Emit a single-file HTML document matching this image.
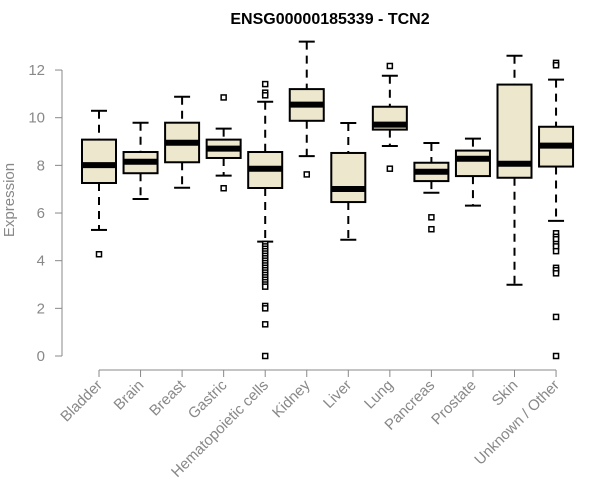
<!DOCTYPE html>
<html><head><meta charset="utf-8"><style>
body{margin:0;background:#fff}
svg{display:block;font-family:"Liberation Sans",Arial,sans-serif}
</style></head><body>
<svg id="chart" width="600" height="500" xmlns="http://www.w3.org/2000/svg">
<text x="330" y="24" text-anchor="middle" font-size="16" font-weight="bold">ENSG00000185339 - TCN2</text>
<text transform="translate(14,200) rotate(-90)" text-anchor="middle" font-size="15" fill="#888">Expression</text>
<g id="axes"></g><g id="boxes"></g>
</svg>
<script>
const categories=["Bladder","Brain","Breast","Gastric","Hematopoietic cells","Kidney","Liver","Lung","Pancreas","Prostate","Skin","Unknown / Other"];
const whiskerLow=[5.29,6.59,7.06,7.57,4.80,8.39,4.88,8.81,6.85,6.31,2.99,5.67];
const q1=[7.26,7.67,8.13,8.31,7.05,9.87,6.46,9.50,7.34,7.55,7.48,7.95];
const medians=[8.01,8.15,8.95,8.70,7.86,10.55,7.01,9.71,7.73,8.28,8.07,8.83];
const q3=[9.08,8.56,9.79,9.08,8.56,11.2,8.52,10.46,8.11,8.62,11.39,9.62];
const whiskerHigh=[10.29,9.79,10.88,9.54,10.67,13.19,9.78,11.76,8.94,9.12,12.6,11.6];
const outliers=[[4.27],[],[],[10.85,7.04],[11.41,11.05,10.94,4.7,4.6,4.5,4.4,4.3,4.2,4.1,4.0,3.9,3.8,3.7,3.6,3.5,3.4,3.3,3.2,3.1,3.0,2.91,2.1,2.0,1.33,0],[7.62],[],[12.17,7.86],[5.82,5.32],[],[],[12.3,12.2,5.15,5.0,4.9,4.7,4.6,4.4,3.7,3.6,3.47,1.64,0]];
const yTicks=[0,2,4,6,8,10,12];
const NS="http://www.w3.org/2000/svg";
const y=v=>356-v*23.83;
const x=i=>99+i*41.55;
function mk(t,a,p){const e=document.createElementNS(NS,t);for(const k in a)e.setAttribute(k,a[k]);p.appendChild(e);return e;}
const ax=document.getElementById('axes'),bx=document.getElementById('boxes');
const yl=mk('line',{x1:62,x2:62,y1:y(12),y2:y(0),stroke:'#888'},ax);


yTicks.forEach(t=>{
 const tk=mk('line',{x1:55,x2:62,y1:y(t),y2:y(t),stroke:'#888'},ax);
 
 
 const tx=mk('text',{x:45,y:y(t)+5,'text-anchor':'end','font-size':15,fill:'#888'},ax);
 tx.textContent=t;
 
 
});
const xl=mk('line',{x1:x(0),x2:x(11),y1:370,y2:370,stroke:'#888'},ax);


categories.forEach((c,i)=>{
 const X=x(i);
 const tk=mk('line',{x1:X,x2:X,y1:370,y2:377,stroke:'#888'},ax);
 
 
 const tx=mk('text',{x:X+4,y:386,'text-anchor':'end','font-size':15,fill:'#888',transform:`rotate(-45 ${X+4} 386)`},ax);
 tx.textContent=c;
 
 
 const g=mk('g',{},bx);
 
 
 const w=17,cw=8;
 mk('line',{x1:X,x2:X,y1:y(whiskerHigh[i]),y2:y(q3[i]),stroke:'#000','stroke-width':2,'stroke-dasharray':'8,6'},g);
 mk('line',{x1:X,x2:X,y1:y(q1[i]),y2:y(whiskerLow[i]),stroke:'#000','stroke-width':2,'stroke-dasharray':'8,6'},g);
 mk('line',{x1:X-cw,x2:X+cw,y1:y(whiskerHigh[i]),y2:y(whiskerHigh[i]),stroke:'#000','stroke-width':2},g);
 mk('line',{x1:X-cw,x2:X+cw,y1:y(whiskerLow[i]),y2:y(whiskerLow[i]),stroke:'#000','stroke-width':2},g);
 mk('rect',{x:X-w,y:y(q3[i]),width:2*w,height:y(q1[i])-y(q3[i]),fill:'#ede7cd',stroke:'#000','stroke-width':2},g);
 mk('line',{x1:X-w,x2:X+w,y1:y(medians[i]),y2:y(medians[i]),stroke:'#000','stroke-width':6},g);
 outliers[i].forEach(v=>{
  const o=mk('rect',{x:X-2.5,y:y(v)-2.5,width:5,height:5,fill:'#fff',stroke:'#000','stroke-width':1.5},g);
  
  
 });
});
</script>
</body></html>
